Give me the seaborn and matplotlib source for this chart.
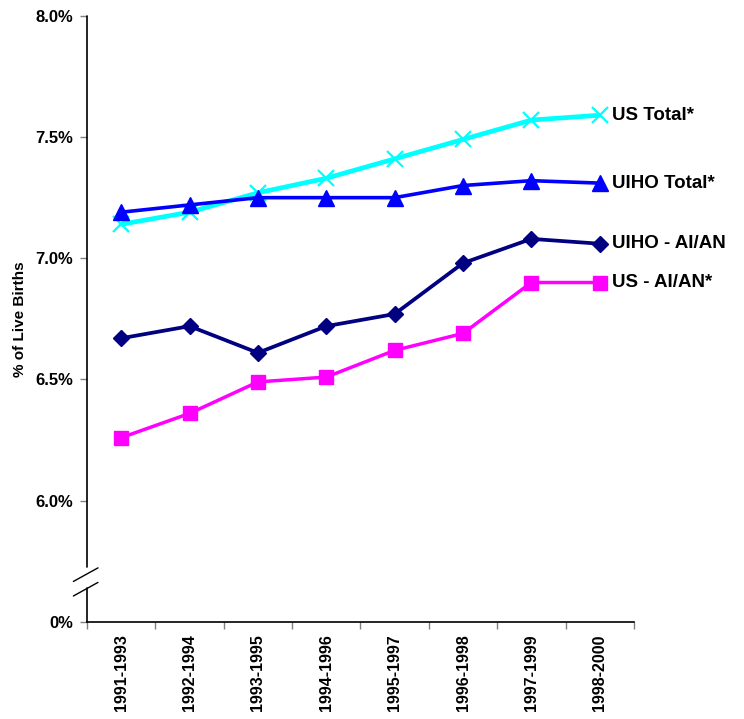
import matplotlib
matplotlib.use("Agg")
import matplotlib.pyplot as plt
import matplotlib.transforms as mtransforms
import seaborn as sns

periods = ["1991-1993", "1992-1994", "1993-1995", "1994-1996",
           "1995-1997", "1996-1998", "1997-1999", "1998-2000"]
us_total = [7.14, 7.19, 7.27, 7.33, 7.41, 7.49, 7.57, 7.59]
uiho_total = [7.19, 7.22, 7.25, 7.25, 7.25, 7.30, 7.32, 7.31]
uiho_aian = [6.67, 6.72, 6.61, 6.72, 6.77, 6.98, 7.08, 7.06]
us_aian = [6.26, 6.36, 6.49, 6.51, 6.62, 6.69, 6.90, 6.90]
y_ticks = [5.5, 6.0, 6.5, 7.0, 7.5, 8.0]
y_labels = ["0%", "6.0%", "6.5%", "7.0%", "7.5%", "8.0%"]

sns.set_style("ticks")
plt.rcParams["font.family"] = ["Liberation Sans", "DejaVu Sans"]
plt.rcParams["font.weight"] = "bold"
plt.rcParams["text.color"] = "black"
plt.rcParams["axes.labelcolor"] = "black"
plt.rcParams["xtick.labelcolor"] = "black"
plt.rcParams["ytick.labelcolor"] = "black"

fig = plt.figure(figsize=(7.44, 7.19), dpi=100)
ax = fig.add_axes([0.117, 0.135, 0.735, 0.843])

series = [
    ("US Total*", us_total, "#00FFFF", "x", 11, 3.4, 1.6),
    ("UIHO Total*", uiho_total, "#0000FF", "^", 11, 2.6, 1.0),
    ("UIHO - AI/AN", uiho_aian, "#000080", "D", 8.5, 2.7, 1.0),
    ("US - AI/AN*", us_aian, "#FF00FF", "s", 10, 2.5, 1.0),
]
for name, vals, col, mk, ms, lw, mew in series:
    sns.lineplot(x=periods, y=vals, ax=ax, color=col, marker=mk, markersize=ms,
                 linewidth=lw, markeredgecolor=col, markeredgewidth=mew, sort=False)
    ax.annotate(name, xy=(len(periods) - 1, vals[-1]), xytext=(9, 0),
                textcoords="offset points", va="center", ha="left",
                fontsize=13.5, fontweight="bold", color="black")

ax.set_xlim(-0.5, len(periods) - 0.5)
ax.set_ylim(5.5, 8.0)
ax.set_xticks(range(len(periods)))
ax.set_xticklabels(periods, rotation=90, fontsize=11.5, fontweight="bold")
ax.set_xticks([i - 0.5 for i in range(len(periods) + 1)], minor=True)
ax.tick_params(axis="x", which="major", length=0, pad=9)
ax.tick_params(axis="x", which="minor", length=5, width=1, color="#808080")
ax.set_yticks(y_ticks)
ax.set_yticklabels(y_labels, fontsize=12, fontweight="bold")
ax.tick_params(axis="y", length=5, width=1, color="#808080", pad=5)
ax.set_ylabel("% of Live Births", fontsize=11, fontweight="bold", labelpad=6)
ax.set_xlabel("")

for s in ["top", "right", "left"]:
    ax.spines[s].set_visible(False)
ax.spines["bottom"].set_color("black")
ax.spines["bottom"].set_linewidth(1.2)

# broken left axis
tr = mtransforms.blended_transform_factory(ax.transAxes, ax.transData)
ax.plot([0, 0], [5.5, 5.64], transform=tr, color="black", lw=1.2, clip_on=False)
ax.plot([0, 0], [5.728, 8.0], transform=tr, color="black", lw=1.2, clip_on=False)
for yc in [5.695, 5.635]:
    ax.plot([-0.025, 0.02], [yc - 0.028, yc + 0.028], transform=tr,
            color="black", lw=1, clip_on=False)

fig.savefig("out.png", dpi=100)
